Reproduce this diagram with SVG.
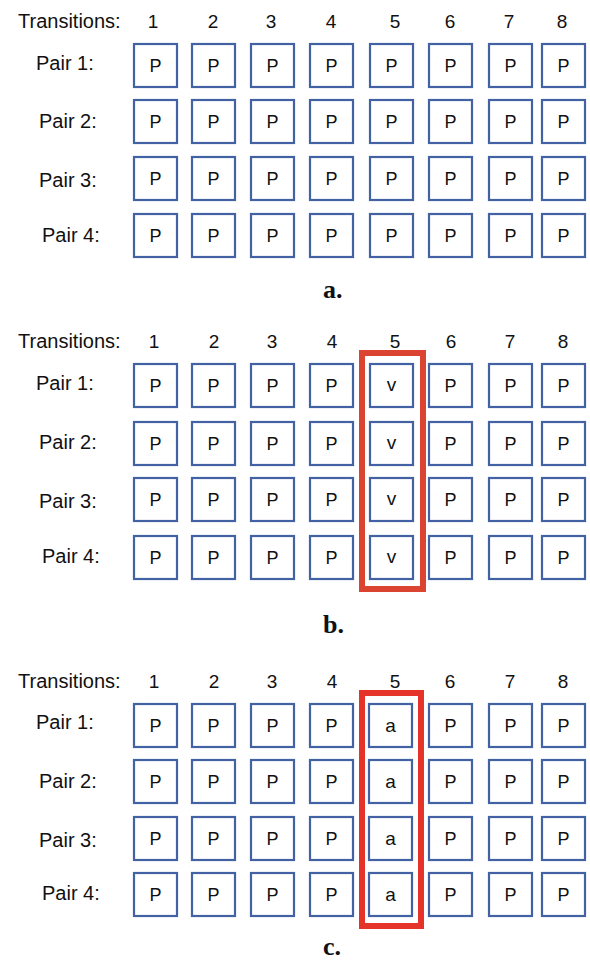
<svg xmlns="http://www.w3.org/2000/svg" width="590" height="962" viewBox="0 0 590 962">
  <style>
    .bg { fill: #ffffff; }
    .box { fill: #ffffff; stroke: #4262a3; stroke-width: 2.2; }
    .t { font-family: "Liberation Sans", Arial, sans-serif; fill: #111111; }
    .hdr { font-size: 20px; }
    .num { font-size: 19px; text-anchor: middle; }
    .cell { font-size: 18px; text-anchor: middle; }
    .low { font-size: 19px; text-anchor: middle; }
    .cap { font-family: "Liberation Serif", "Times New Roman", serif; font-weight: bold; font-size: 26px; fill: #111; }
    .hlb { fill: none; stroke: #db4430; stroke-width: 6; }
    .hlc { fill: none; stroke: #e6332a; stroke-width: 6; }
  </style>
  <defs>
    <rect id="sq" width="43" height="43" class="box"/>
  </defs>
  <rect class="bg" x="0" y="0" width="590" height="962"/>

  <!-- ===== Panel a: all transitions P ===== -->
  <g id="panel-a">
    <g id="a-header" class="t">
      <text class="hdr" x="18" y="28">Transitions:</text>
      <text class="num" x="153" y="28">1</text>
      <text class="num" x="213" y="28">2</text>
      <text class="num" x="271" y="28">3</text>
      <text class="num" x="331" y="28">4</text>
      <text class="num" x="395" y="28">5</text>
      <text class="num" x="450" y="28">6</text>
      <text class="num" x="509" y="28">7</text>
      <text class="num" x="562" y="28">8</text>
    </g>
    <g id="a-rows" class="t hdr">
      <text x="36" y="70">Pair 1:</text>
      <text x="39" y="128">Pair 2:</text>
      <text x="39" y="187">Pair 3:</text>
      <text x="42" y="242">Pair 4:</text>
    </g>
    <!-- row 1 -->
    <g id="a-r1c1"><use href="#sq" x="134" y="44"/><text class="t cell" x="155.5" y="72">P</text></g>
    <g id="a-r1c2"><use href="#sq" x="192" y="44"/><text class="t cell" x="213.5" y="72">P</text></g>
    <g id="a-r1c3"><use href="#sq" x="251" y="44"/><text class="t cell" x="272.5" y="72">P</text></g>
    <g id="a-r1c4"><use href="#sq" x="310" y="44"/><text class="t cell" x="331.5" y="72">P</text></g>
    <g id="a-r1c5"><use href="#sq" x="370" y="44"/><text class="t cell" x="391.5" y="72">P</text></g>
    <g id="a-r1c6"><use href="#sq" x="429" y="44"/><text class="t cell" x="450.5" y="72">P</text></g>
    <g id="a-r1c7"><use href="#sq" x="489" y="44"/><text class="t cell" x="510.5" y="72">P</text></g>
    <g id="a-r1c8"><use href="#sq" x="542" y="44"/><text class="t cell" x="563.5" y="72">P</text></g>
    <!-- row 2 -->
    <g id="a-r2c1"><use href="#sq" x="134" y="100"/><text class="t cell" x="155.5" y="128">P</text></g>
    <g id="a-r2c2"><use href="#sq" x="192" y="100"/><text class="t cell" x="213.5" y="128">P</text></g>
    <g id="a-r2c3"><use href="#sq" x="251" y="100"/><text class="t cell" x="272.5" y="128">P</text></g>
    <g id="a-r2c4"><use href="#sq" x="310" y="100"/><text class="t cell" x="331.5" y="128">P</text></g>
    <g id="a-r2c5"><use href="#sq" x="370" y="100"/><text class="t cell" x="391.5" y="128">P</text></g>
    <g id="a-r2c6"><use href="#sq" x="429" y="100"/><text class="t cell" x="450.5" y="128">P</text></g>
    <g id="a-r2c7"><use href="#sq" x="489" y="100"/><text class="t cell" x="510.5" y="128">P</text></g>
    <g id="a-r2c8"><use href="#sq" x="542" y="100"/><text class="t cell" x="563.5" y="128">P</text></g>
    <!-- row 3 -->
    <g id="a-r3c1"><use href="#sq" x="134" y="157"/><text class="t cell" x="155.5" y="185">P</text></g>
    <g id="a-r3c2"><use href="#sq" x="192" y="157"/><text class="t cell" x="213.5" y="185">P</text></g>
    <g id="a-r3c3"><use href="#sq" x="251" y="157"/><text class="t cell" x="272.5" y="185">P</text></g>
    <g id="a-r3c4"><use href="#sq" x="310" y="157"/><text class="t cell" x="331.5" y="185">P</text></g>
    <g id="a-r3c5"><use href="#sq" x="370" y="157"/><text class="t cell" x="391.5" y="185">P</text></g>
    <g id="a-r3c6"><use href="#sq" x="429" y="157"/><text class="t cell" x="450.5" y="185">P</text></g>
    <g id="a-r3c7"><use href="#sq" x="489" y="157"/><text class="t cell" x="510.5" y="185">P</text></g>
    <g id="a-r3c8"><use href="#sq" x="542" y="157"/><text class="t cell" x="563.5" y="185">P</text></g>
    <!-- row 4 -->
    <g id="a-r4c1"><use href="#sq" x="134" y="214"/><text class="t cell" x="155.5" y="242">P</text></g>
    <g id="a-r4c2"><use href="#sq" x="192" y="214"/><text class="t cell" x="213.5" y="242">P</text></g>
    <g id="a-r4c3"><use href="#sq" x="251" y="214"/><text class="t cell" x="272.5" y="242">P</text></g>
    <g id="a-r4c4"><use href="#sq" x="310" y="214"/><text class="t cell" x="331.5" y="242">P</text></g>
    <g id="a-r4c5"><use href="#sq" x="370" y="214"/><text class="t cell" x="391.5" y="242">P</text></g>
    <g id="a-r4c6"><use href="#sq" x="429" y="214"/><text class="t cell" x="450.5" y="242">P</text></g>
    <g id="a-r4c7"><use href="#sq" x="489" y="214"/><text class="t cell" x="510.5" y="242">P</text></g>
    <g id="a-r4c8"><use href="#sq" x="542" y="214"/><text class="t cell" x="563.5" y="242">P</text></g>
    <text id="a-caption" class="cap" x="323" y="298">a.</text>
  </g>

  <!-- ===== Panel b: transition 5 replaced by v ===== -->
  <g id="panel-b">
    <g id="b-header" class="t">
      <text class="hdr" x="18" y="348">Transitions:</text>
      <text class="num" x="154" y="348">1</text>
      <text class="num" x="214" y="348">2</text>
      <text class="num" x="272" y="348">3</text>
      <text class="num" x="332" y="348">4</text>
      <text class="num" x="395" y="348">5</text>
      <text class="num" x="451" y="348">6</text>
      <text class="num" x="510" y="348">7</text>
      <text class="num" x="563" y="348">8</text>
    </g>
    <g id="b-rows" class="t hdr">
      <text x="36" y="390">Pair 1:</text>
      <text x="39" y="449">Pair 2:</text>
      <text x="39" y="508">Pair 3:</text>
      <text x="42" y="563">Pair 4:</text>
    </g>
    <!-- row 1 -->
    <g id="b-r1c1"><use href="#sq" x="134" y="364"/><text class="t cell" x="155.5" y="392">P</text></g>
    <g id="b-r1c2"><use href="#sq" x="192" y="364"/><text class="t cell" x="213.5" y="392">P</text></g>
    <g id="b-r1c3"><use href="#sq" x="251" y="364"/><text class="t cell" x="272.5" y="392">P</text></g>
    <g id="b-r1c4"><use href="#sq" x="310" y="364"/><text class="t cell" x="331.5" y="392">P</text></g>
    <g id="b-r1c5"><use href="#sq" x="370" y="364"/><text class="t low" x="391.5" y="391">v</text></g>
    <g id="b-r1c6"><use href="#sq" x="429" y="364"/><text class="t cell" x="450.5" y="392">P</text></g>
    <g id="b-r1c7"><use href="#sq" x="489" y="364"/><text class="t cell" x="510.5" y="392">P</text></g>
    <g id="b-r1c8"><use href="#sq" x="542" y="364"/><text class="t cell" x="563.5" y="392">P</text></g>
    <!-- row 2 -->
    <g id="b-r2c1"><use href="#sq" x="134" y="422"/><text class="t cell" x="155.5" y="450">P</text></g>
    <g id="b-r2c2"><use href="#sq" x="192" y="422"/><text class="t cell" x="213.5" y="450">P</text></g>
    <g id="b-r2c3"><use href="#sq" x="251" y="422"/><text class="t cell" x="272.5" y="450">P</text></g>
    <g id="b-r2c4"><use href="#sq" x="310" y="422"/><text class="t cell" x="331.5" y="450">P</text></g>
    <g id="b-r2c5"><use href="#sq" x="370" y="422"/><text class="t low" x="391.5" y="449">v</text></g>
    <g id="b-r2c6"><use href="#sq" x="429" y="422"/><text class="t cell" x="450.5" y="450">P</text></g>
    <g id="b-r2c7"><use href="#sq" x="489" y="422"/><text class="t cell" x="510.5" y="450">P</text></g>
    <g id="b-r2c8"><use href="#sq" x="542" y="422"/><text class="t cell" x="563.5" y="450">P</text></g>
    <!-- row 3 -->
    <g id="b-r3c1"><use href="#sq" x="134" y="478"/><text class="t cell" x="155.5" y="506">P</text></g>
    <g id="b-r3c2"><use href="#sq" x="192" y="478"/><text class="t cell" x="213.5" y="506">P</text></g>
    <g id="b-r3c3"><use href="#sq" x="251" y="478"/><text class="t cell" x="272.5" y="506">P</text></g>
    <g id="b-r3c4"><use href="#sq" x="310" y="478"/><text class="t cell" x="331.5" y="506">P</text></g>
    <g id="b-r3c5"><use href="#sq" x="370" y="478"/><text class="t low" x="391.5" y="505">v</text></g>
    <g id="b-r3c6"><use href="#sq" x="429" y="478"/><text class="t cell" x="450.5" y="506">P</text></g>
    <g id="b-r3c7"><use href="#sq" x="489" y="478"/><text class="t cell" x="510.5" y="506">P</text></g>
    <g id="b-r3c8"><use href="#sq" x="542" y="478"/><text class="t cell" x="563.5" y="506">P</text></g>
    <!-- row 4 -->
    <g id="b-r4c1"><use href="#sq" x="134" y="536"/><text class="t cell" x="155.5" y="564">P</text></g>
    <g id="b-r4c2"><use href="#sq" x="192" y="536"/><text class="t cell" x="213.5" y="564">P</text></g>
    <g id="b-r4c3"><use href="#sq" x="251" y="536"/><text class="t cell" x="272.5" y="564">P</text></g>
    <g id="b-r4c4"><use href="#sq" x="310" y="536"/><text class="t cell" x="331.5" y="564">P</text></g>
    <g id="b-r4c5"><use href="#sq" x="370" y="536"/><text class="t low" x="391.5" y="563">v</text></g>
    <g id="b-r4c6"><use href="#sq" x="429" y="536"/><text class="t cell" x="450.5" y="564">P</text></g>
    <g id="b-r4c7"><use href="#sq" x="489" y="536"/><text class="t cell" x="510.5" y="564">P</text></g>
    <g id="b-r4c8"><use href="#sq" x="542" y="536"/><text class="t cell" x="563.5" y="564">P</text></g>
    <!-- highlight around column 5 -->
    <rect id="b-highlight" class="hlb" x="362" y="353" width="61" height="236"/>
    <text id="b-caption" class="cap" x="323" y="633">b.</text>
  </g>

  <!-- ===== Panel c: transition 5 replaced by a ===== -->
  <g id="panel-c">
    <g id="c-header" class="t">
      <text class="hdr" x="18" y="688">Transitions:</text>
      <text class="num" x="154" y="688">1</text>
      <text class="num" x="214" y="688">2</text>
      <text class="num" x="272" y="688">3</text>
      <text class="num" x="332" y="688">4</text>
      <text class="num" x="395" y="688">5</text>
      <text class="num" x="450" y="688">6</text>
      <text class="num" x="510" y="688">7</text>
      <text class="num" x="563" y="688">8</text>
    </g>
    <g id="c-rows" class="t hdr">
      <text x="36" y="729">Pair 1:</text>
      <text x="39" y="788">Pair 2:</text>
      <text x="39" y="847">Pair 3:</text>
      <text x="42" y="900">Pair 4:</text>
    </g>
    <!-- row 1 -->
    <g id="c-r1c1"><use href="#sq" x="134" y="704"/><text class="t cell" x="155.5" y="732">P</text></g>
    <g id="c-r1c2"><use href="#sq" x="192" y="704"/><text class="t cell" x="213.5" y="732">P</text></g>
    <g id="c-r1c3"><use href="#sq" x="251" y="704"/><text class="t cell" x="272.5" y="732">P</text></g>
    <g id="c-r1c4"><use href="#sq" x="310" y="704"/><text class="t cell" x="331.5" y="732">P</text></g>
    <g id="c-r1c5"><use href="#sq" x="369" y="704"/><text class="t low" x="390.5" y="732">a</text></g>
    <g id="c-r1c6"><use href="#sq" x="429" y="704"/><text class="t cell" x="450.5" y="732">P</text></g>
    <g id="c-r1c7"><use href="#sq" x="489" y="704"/><text class="t cell" x="510.5" y="732">P</text></g>
    <g id="c-r1c8"><use href="#sq" x="542" y="704"/><text class="t cell" x="563.5" y="732">P</text></g>
    <!-- row 2 -->
    <g id="c-r2c1"><use href="#sq" x="134" y="760"/><text class="t cell" x="155.5" y="788">P</text></g>
    <g id="c-r2c2"><use href="#sq" x="192" y="760"/><text class="t cell" x="213.5" y="788">P</text></g>
    <g id="c-r2c3"><use href="#sq" x="251" y="760"/><text class="t cell" x="272.5" y="788">P</text></g>
    <g id="c-r2c4"><use href="#sq" x="310" y="760"/><text class="t cell" x="331.5" y="788">P</text></g>
    <g id="c-r2c5"><use href="#sq" x="369" y="760"/><text class="t low" x="390.5" y="788">a</text></g>
    <g id="c-r2c6"><use href="#sq" x="429" y="760"/><text class="t cell" x="450.5" y="788">P</text></g>
    <g id="c-r2c7"><use href="#sq" x="489" y="760"/><text class="t cell" x="510.5" y="788">P</text></g>
    <g id="c-r2c8"><use href="#sq" x="542" y="760"/><text class="t cell" x="563.5" y="788">P</text></g>
    <!-- row 3 -->
    <g id="c-r3c1"><use href="#sq" x="134" y="817"/><text class="t cell" x="155.5" y="845">P</text></g>
    <g id="c-r3c2"><use href="#sq" x="192" y="817"/><text class="t cell" x="213.5" y="845">P</text></g>
    <g id="c-r3c3"><use href="#sq" x="251" y="817"/><text class="t cell" x="272.5" y="845">P</text></g>
    <g id="c-r3c4"><use href="#sq" x="310" y="817"/><text class="t cell" x="331.5" y="845">P</text></g>
    <g id="c-r3c5"><use href="#sq" x="369" y="817"/><text class="t low" x="390.5" y="845">a</text></g>
    <g id="c-r3c6"><use href="#sq" x="429" y="817"/><text class="t cell" x="450.5" y="845">P</text></g>
    <g id="c-r3c7"><use href="#sq" x="489" y="817"/><text class="t cell" x="510.5" y="845">P</text></g>
    <g id="c-r3c8"><use href="#sq" x="542" y="817"/><text class="t cell" x="563.5" y="845">P</text></g>
    <!-- row 4 -->
    <g id="c-r4c1"><use href="#sq" x="134" y="873"/><text class="t cell" x="155.5" y="901">P</text></g>
    <g id="c-r4c2"><use href="#sq" x="192" y="873"/><text class="t cell" x="213.5" y="901">P</text></g>
    <g id="c-r4c3"><use href="#sq" x="251" y="873"/><text class="t cell" x="272.5" y="901">P</text></g>
    <g id="c-r4c4"><use href="#sq" x="310" y="873"/><text class="t cell" x="331.5" y="901">P</text></g>
    <g id="c-r4c5"><use href="#sq" x="369" y="873"/><text class="t low" x="390.5" y="901">a</text></g>
    <g id="c-r4c6"><use href="#sq" x="429" y="873"/><text class="t cell" x="450.5" y="901">P</text></g>
    <g id="c-r4c7"><use href="#sq" x="489" y="873"/><text class="t cell" x="510.5" y="901">P</text></g>
    <g id="c-r4c8"><use href="#sq" x="542" y="873"/><text class="t cell" x="563.5" y="901">P</text></g>
    <!-- highlight around column 5 -->
    <rect id="c-highlight" class="hlc" x="362" y="693" width="59" height="233"/>
    <text id="c-caption" class="cap" x="323" y="955">c.</text>
  </g>

  <!-- no connectors in this figure -->
  <g id="connectors"/>
</svg>
